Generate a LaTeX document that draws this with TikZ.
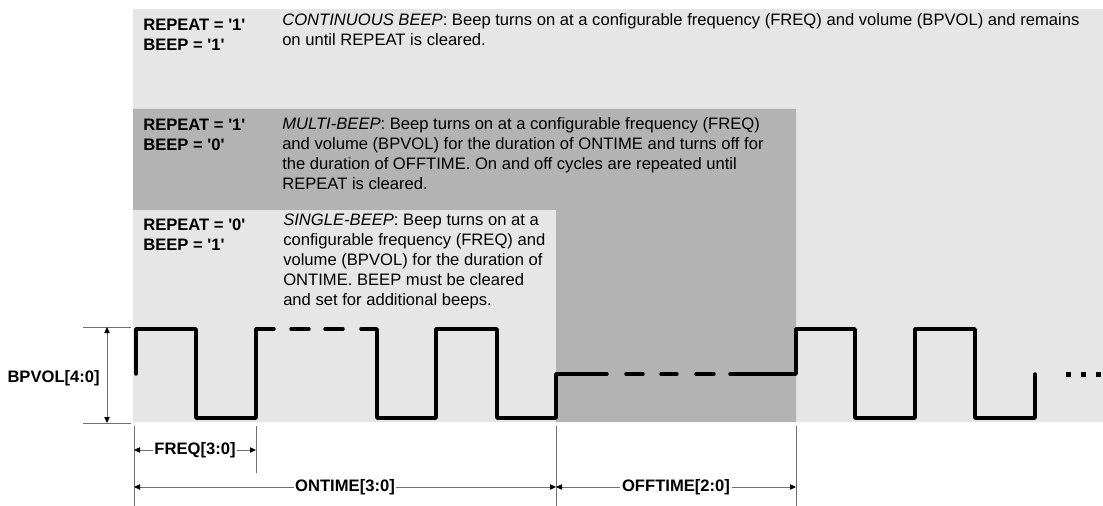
\documentclass[tikz,border=0pt]{standalone}
\usepackage{fontspec}
\setmainfont{Liberation Sans}
\usetikzlibrary{arrows.meta}
\definecolor{lightbg}{HTML}{E6E6E6}
\definecolor{darkbg}{HTML}{B3B3B3}
\definecolor{dimgray}{HTML}{707070}
\newcommand{\sq}{\textquotesingle}
\tikzset{
  txt/.style={anchor=north west, inner sep=0pt, align=left, font=\fontsize{12.45}{15}\selectfont},
  lbl/.style={txt, font=\fontsize{12.45}{15}\selectfont\bfseries},
  wave/.style={line width=2.6pt, line join=round, line cap=round},
  dash seg/.style={line width=2.6pt, line cap=round},
  extline/.style={draw=dimgray, line width=0.75pt},
  dimline/.style={draw=dimgray, line width=0.75pt,
     {Triangle[length=4.5pt,width=4pt,color=black]}-{Triangle[length=4.5pt,width=4pt,color=black]}},
  dimlbl/.style={fill=white, inner xsep=1.2pt, inner ysep=1pt, font=\fontsize{12.45}{15}\selectfont\bfseries}
}
\begin{document}
\begin{tikzpicture}[x=0.75pt,y=-0.75pt]
\useasboundingbox (0,0) rectangle (1103,506);
% backgrounds
\fill[lightbg] (133,9) rectangle (1103,422);
\fill[darkbg] (133,109) -- (796,109) -- (796,422) -- (556,422) -- (556,210) -- (133,210) -- cycle;
\fill[lightbg] (133,210) rectangle (556,422);
% texts (north = first baseline - 14px)
\node[lbl] (r1) at (143,16) {\strut REPEAT = \sq 1\sq\\BEEP = \sq 1\sq};
\node[txt] (d1) at (282,11) {\strut\textit{CONTINUOUS BEEP}: Beep turns on at a configurable frequency (FREQ) and volume (BPVOL) and remains\\on until REPEAT is cleared.};
\node[lbl] (r2) at (143,116) {\strut REPEAT = \sq 1\sq\\BEEP = \sq 0\sq};
\node[txt] (d2) at (282,115) {\strut\textit{MULTI-BEEP}: Beep turns on at a configurable frequency (FREQ)\\and volume (BPVOL) for the duration of ONTIME and turns off for\\the duration of OFFTIME. On and off cycles are repeated until\\REPEAT is cleared.};
\node[lbl] (r3) at (143,216) {\strut REPEAT = \sq 0\sq\\BEEP = \sq 1\sq};
\node[txt] (d3) at (283,211) {\strut\textit{SINGLE-BEEP}: Beep turns on at a\\configurable frequency (FREQ) and\\volume (BPVOL) for the duration of\\ONTIME. BEEP must be cleared\\and set for additional beeps.};
% waveform
\draw[wave] (136,374) -- (136,329) -- (196,329) -- (196,418) -- (256,418) -- (256,329) -- (274,329);
\draw[dash seg] (291,329) -- (309,329);
\draw[dash seg] (325,329) -- (343,329);
\draw[wave] (361,329) -- (377,329) -- (377,418) -- (436,418) -- (436,329) -- (497,329) -- (497,418) -- (556,418) -- (556,374) -- (607,374);
\draw[dash seg] (626,374) -- (643,374);
\draw[dash seg] (661,374) -- (677,374);
\draw[dash seg] (696,374) -- (714,374);
\draw[wave] (730,374) -- (796,374) -- (796,329) -- (855,329) -- (855,418) -- (915,418) -- (915,329) -- (975,329) -- (975,418) -- (1035,418) -- (1035,374);
\foreach \x in {1068,1083,1098} \fill (\x-2.5,371.5) rectangle (\x+2.5,376.5);
% extension lines
\coordinate (bt0) at (83,327);  \coordinate (bt1) at (131,327);
\coordinate (bb0) at (83,423);  \coordinate (bb1) at (131,423);
\coordinate (e1t) at (134,426); \coordinate (e1b) at (134,506);
\coordinate (e2t) at (256,426); \coordinate (e2b) at (256,473);
\coordinate (e3t) at (556,426); \coordinate (e3b) at (556,506);
\coordinate (e4t) at (796,426); \coordinate (e4b) at (796,506);
\draw[extline] (bt0) -- (bt1);
\draw[extline] (bb0) -- (bb1);
\draw[extline] (e1t) -- (e1b);
\draw[extline] (e2t) -- (e2b);
\draw[extline] (e3t) -- (e3b);
\draw[extline] (e4t) -- (e4b);
% dimension arrows
\coordinate (vt) at (107,327); \coordinate (vb) at (107,423);
\draw[dimline] (vt) -- (vb);
\node[anchor=east, inner sep=0pt, font=\fontsize{12.45}{15}\selectfont\bfseries] (bpvol) at (100,378) {BPVOL[4:0]};
\coordinate (f0) at (134,450); \coordinate (f1) at (256,450);
\draw[dimline] (f0) -- node[dimlbl] (freq) {FREQ[3:0]} (f1);
\coordinate (o0) at (134,487); \coordinate (o1) at (556,487); \coordinate (o2) at (796,487);
\draw[dimline] (o0) -- node[dimlbl] (ontime) {ONTIME[3:0]} (o1);
\draw[dimline] (o1) -- node[dimlbl] (offtime) {OFFTIME[2:0]} (o2);
\end{tikzpicture}
\end{document}
